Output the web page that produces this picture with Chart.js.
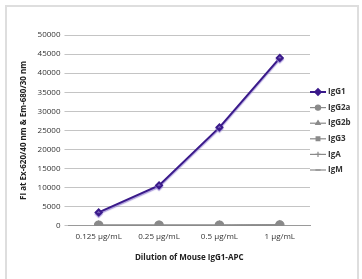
<!DOCTYPE html>
<html>
<head>
<meta charset="utf-8">
<script src="https://cdn.jsdelivr.net/npm/chart.js@4/dist/chart.umd.min.js"></script>
<style>
  html, body { margin: 0; padding: 0; background: #fff; }
  #wrap { position: relative; width: 362px; height: 279px; }
</style>
</head>
<body>
<div id="wrap"><canvas id="chart" width="362" height="279"></canvas></div>
<script>
const dilutions = ["0.125 µg/mL", "0.25 µg/mL", "0.5 µg/mL", "1 µg/mL"];
const igg1 = [3500, 10600, 25800, 44000];
const igg2a = [150, 150, 150, 200];
const igg2b = [150, 150, 150, 200];
const igg3 = [150, 150, 150, 200];
const iga = [150, 150, 150, 200];
const igm = [150, 150, 150, 200];
const yTicks = [0, 5000, 10000, 15000, 20000, 25000, 30000, 35000, 40000, 45000, 50000];

const FONT = "'Open Sans', 'Noto Sans', sans-serif";
const GRAY = "#8a8a8a";

function series(label, data, color, style, radius, width) {
  return {
    label: label,
    data: data,
    borderColor: color,
    backgroundColor: color,
    borderWidth: width,
    pointStyle: style,
    pointRadius: radius,
    pointHoverRadius: radius,
    fill: false,
    tension: 0
  };
}

// frame around the whole figure + shadow under the IgG1 line
const framePlugin = {
  id: "frame",
  beforeDraw(chart) {
    const ctx = chart.ctx;
    ctx.save();
    ctx.strokeStyle = "#dedede";
    ctx.lineWidth = 2;
    ctx.strokeRect(6, 6, 352, 290);
    ctx.restore();
  },
  beforeDatasetDraw(chart, args) {
    if (args.index === 0) {
      chart.ctx.save();
      chart.ctx.shadowColor = "rgba(150,130,210,0.8)";
      chart.ctx.shadowOffsetY = 1.5;
      chart.ctx.shadowBlur = 1;
    }
  },
  afterDatasetDraw(chart, args) {
    if (args.index === 0) chart.ctx.restore();
  }
};

// right-side legend: short line with the series marker, then the label
const legendPlugin = {
  id: "sideLegend",
  afterDraw(chart) {
    const ctx = chart.ctx;
    const x0 = 310, y0 = 92, step = 15.6;
    ctx.save();
    chart.data.datasets.forEach((ds, i) => {
      const y = y0 + i * step;
      ctx.strokeStyle = ds.borderColor;
      ctx.lineWidth = i === 0 ? 2 : 1.2;
      ctx.beginPath();
      ctx.moveTo(x0, y);
      ctx.lineTo(x0 + 16, y);
      ctx.stroke();
      ctx.fillStyle = ds.backgroundColor;
      Chart.helpers.drawPoint(ctx, {
        pointStyle: ds.pointStyle,
        radius: i === 0 ? 2.8 : 2.6,
        borderWidth: 1
      }, x0 + 8, y);
      ctx.fillStyle = "#333";
      ctx.font = "bold 8px " + FONT;
      ctx.textBaseline = "middle";
      ctx.fillText(ds.label, x0 + 18, y);
    });
    ctx.restore();
  }
};

new Chart(document.getElementById("chart"), {
  type: "line",
  data: {
    labels: dilutions,
    datasets: [
      series("IgG1", igg1, "#3a1a8a", "rectRot", 3, 2),
      series("IgG2a", igg2a, GRAY, "circle", 4.2, 1.2),
      series("IgG2b", igg2b, GRAY, "triangle", 4, 1.2),
      series("IgG3", igg3, GRAY, "rect", 3.8, 1.2),
      series("IgA", iga, GRAY, "cross", 3, 1.2),
      series("IgM", igm, GRAY, "line", 3, 1.2)
    ]
  },
  options: {
    responsive: false,
    animation: false,
    layout: { padding: { left: 15, right: 52, top: 35, bottom: 12 } },
    plugins: {
      legend: { display: false },
      tooltip: { enabled: false }
    },
    scales: {
      x: {
        offset: true,
        grid: { display: false, drawTicks: false },
        border: { color: "#9a9a9a", width: 1 },
        ticks: { color: "#333", font: { family: FONT, size: 8 }, padding: 6, maxRotation: 0 },
        title: {
          display: true,
          text: "Dilution of Mouse IgG1-APC",
          color: "#222",
          font: { family: FONT, size: 8, weight: "bold" },
          padding: { top: 6 }
        }
      },
      y: {
        min: 0,
        max: 50000,
        afterBuildTicks(axis) { axis.ticks = yTicks.map(v => ({ value: v })); },
        grid: { color: "#c4c4c4", lineWidth: 1, tickLength: 4 },
        border: { display: false },
        ticks: {
          color: "#333",
          font: { family: FONT, size: 8 },
          padding: 4,
          callback: v => String(v)
        },
        title: {
          display: true,
          text: "FI at Ex-620/40 nm & Em-680/30 nm",
          color: "#222",
          font: { family: FONT, size: 8, weight: "bold" },
          padding: { bottom: 5 }
        }
      }
    }
  },
  plugins: [framePlugin, legendPlugin]
});
</script>
</body>
</html>
